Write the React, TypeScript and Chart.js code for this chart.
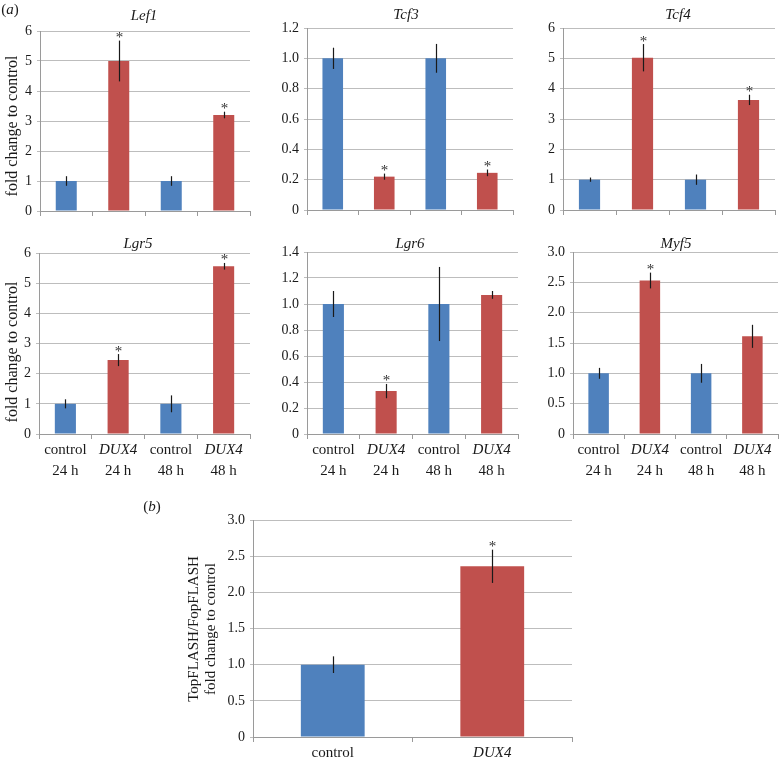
import React, { useEffect, useRef } from "react";
import { Chart, registerables } from "chart.js";

Chart.register(...registerables);

const FONT = '"Liberation Serif", "Times New Roman", serif';

// ---------- data ----------
const GROUP_LABELS = ["control", "DUX4", "control", "DUX4"];
const GROUP_ITALIC = [false, true, false, true];
const TIME_LABELS = ["24 h", "24 h", "48 h", "48 h"];
const BAR_COLORS = ["#4F81BD", "#C0504D", "#4F81BD", "#C0504D"];

const LEF1_VALUES = [1, 5, 1, 3.2];
const LEF1_ERRORS = [0.16, 0.68, 0.16, 0.11];
const LEF1_STARS = [false, true, false, true];

const TCF3_VALUES = [1, 0.22, 1, 0.245];
const TCF3_ERRORS = [0.07, 0.02, 0.095, 0.022];
const TCF3_STARS = [false, true, false, true];

const TCF4_VALUES = [1, 5.02, 1, 3.63];
const TCF4_ERRORS = [0.07, 0.45, 0.17, 0.17];
const TCF4_STARS = [false, true, false, true];

const LGR5_VALUES = [1, 2.45, 1, 5.56];
const LGR5_ERRORS = [0.15, 0.2, 0.28, 0.11];
const LGR5_STARS = [false, true, false, true];

const LGR6_VALUES = [1, 0.33, 1, 1.07];
const LGR6_ERRORS = [0.1, 0.055, 0.285, 0.03];
const LGR6_STARS = [false, true, false, false];

const MYF5_VALUES = [1, 2.53, 1, 1.61];
const MYF5_ERRORS = [0.09, 0.13, 0.155, 0.19];
const MYF5_STARS = [false, true, false, false];

const B_LABELS = ["control", "DUX4"];
const B_ITALIC = [false, true];
const B_COLORS = ["#4F81BD", "#C0504D"];
const B_VALUES = [1, 2.36];
const B_ERRORS = [0.115, 0.23];
const B_STARS = [false, true];

const Y_TITLE_A = ["fold change to control"];
const Y_TITLE_B = ["TopFLASH/FopFLASH", "fold change to control"];

// ---------- layout ----------
type Part = { t: string; italic?: boolean };
type TextItem = { parts: Part[]; x: number; y: number; size: number; rotate?: boolean };

type PanelDef = {
  title?: string;
  labels: string[];
  italic: boolean[];
  times?: string[];
  showX: boolean;
  colors: string[];
  values: number[];
  errors: number[];
  stars: boolean[];
  yMax: number;
  yStep: number;
  decimals: number;
  area: { l: number; t: number; r: number; b: number };
  canvasX: number;
  titleX?: number;
  titleY?: number;
  texts: TextItem[];
};

const PANELS: PanelDef[] = [
  {
    title: "Lef1", labels: GROUP_LABELS, italic: GROUP_ITALIC, showX: false, colors: BAR_COLORS,
    values: LEF1_VALUES, errors: LEF1_ERRORS, stars: LEF1_STARS, yMax: 6, yStep: 1, decimals: 0,
    area: { l: 40, t: 31, r: 250, b: 211 }, canvasX: 0, titleX: 144, titleY: 20,
    texts: [
      { parts: [{ t: "(" }, { t: "a", italic: true }, { t: ")" }], x: 10, y: 14, size: 15 },
      { parts: [{ t: Y_TITLE_A[0] }], x: 13, y: 126, size: 16, rotate: true },
    ],
  },
  {
    title: "Tcf3", labels: GROUP_LABELS, italic: GROUP_ITALIC, showX: false, colors: BAR_COLORS,
    values: TCF3_VALUES, errors: TCF3_ERRORS, stars: TCF3_STARS, yMax: 1.2, yStep: 0.2, decimals: 1,
    area: { l: 307, t: 28, r: 513, b: 210 }, canvasX: 255, titleX: 406, titleY: 19, texts: [],
  },
  {
    title: "Tcf4", labels: GROUP_LABELS, italic: GROUP_ITALIC, showX: false, colors: BAR_COLORS,
    values: TCF4_VALUES, errors: TCF4_ERRORS, stars: TCF4_STARS, yMax: 6, yStep: 1, decimals: 0,
    area: { l: 563, t: 28, r: 775, b: 210 }, canvasX: 515, titleX: 678, titleY: 19, texts: [],
  },
  {
    title: "Lgr5", labels: GROUP_LABELS, italic: GROUP_ITALIC, times: TIME_LABELS, showX: true, colors: BAR_COLORS,
    values: LGR5_VALUES, errors: LGR5_ERRORS, stars: LGR5_STARS, yMax: 6, yStep: 1, decimals: 0,
    area: { l: 39, t: 253, r: 250, b: 434 }, canvasX: 0, titleX: 138, titleY: 248,
    texts: [{ parts: [{ t: Y_TITLE_A[0] }], x: 13, y: 352, size: 16, rotate: true }],
  },
  {
    title: "Lgr6", labels: GROUP_LABELS, italic: GROUP_ITALIC, times: TIME_LABELS, showX: true, colors: BAR_COLORS,
    values: LGR6_VALUES, errors: LGR6_ERRORS, stars: LGR6_STARS, yMax: 1.4, yStep: 0.2, decimals: 1,
    area: { l: 307, t: 252, r: 518, b: 434 }, canvasX: 255, titleX: 410, titleY: 248, texts: [],
  },
  {
    title: "Myf5", labels: GROUP_LABELS, italic: GROUP_ITALIC, times: TIME_LABELS, showX: true, colors: BAR_COLORS,
    values: MYF5_VALUES, errors: MYF5_ERRORS, stars: MYF5_STARS, yMax: 3, yStep: 0.5, decimals: 1,
    area: { l: 573, t: 252, r: 778, b: 434 }, canvasX: 522, titleX: 676, titleY: 248, texts: [],
  },
  {
    labels: B_LABELS, italic: B_ITALIC, showX: true, colors: B_COLORS,
    values: B_VALUES, errors: B_ERRORS, stars: B_STARS, yMax: 3, yStep: 0.5, decimals: 1,
    area: { l: 253, t: 520, r: 572, b: 737 }, canvasX: 135,
    texts: [
      { parts: [{ t: "(" }, { t: "b", italic: true }, { t: ")" }], x: 152, y: 511, size: 15 },
      { parts: [{ t: Y_TITLE_B[0] }], x: 194, y: 629, size: 15, rotate: true },
      { parts: [{ t: Y_TITLE_B[1] }], x: 211, y: 629, size: 15, rotate: true },
    ],
  },
];

function drawParts(ctx: CanvasRenderingContext2D, parts: Part[], x: number, y: number, size: number) {
  const fonts = parts.map((p) => `${p.italic ? "italic " : ""}${size}px ${FONT}`);
  const widths = parts.map((p, i) => {
    ctx.font = fonts[i];
    return ctx.measureText(p.t).width;
  });
  const total = widths.reduce((a, b) => a + b, 0);
  let cx = x - total / 2;
  ctx.textAlign = "left";
  parts.forEach((p, i) => {
    ctx.font = fonts[i];
    ctx.fillText(p.t, cx, y);
    cx += widths[i];
  });
}

function BarPanel({ def }: { def: PanelDef }) {
  const ref = useRef<HTMLCanvasElement>(null);
  const { area, canvasX } = def;
  const PT = Math.min(area.t, 30);
  const canvasY = area.t - PT;
  const PL = area.l - canvasX;
  const PR = 2;
  const PB = 48;
  const W = area.r - area.l + PL + PR;
  const H = area.b - area.t + PT + PB;

  useEffect(() => {
    if (!ref.current) return;
    const toX = (px: number) => px - canvasX;
    const toY = (py: number) => py - canvasY;
    const extras = {
      id: "extras",
      afterDatasetsDraw(chart: any) {
        const ctx: CanvasRenderingContext2D = chart.ctx;
        const xs = chart.scales.x;
        const ys = chart.scales.y;
        ctx.save();
        // error bars and stars
        def.values.forEach((v, i) => {
          const cx = Math.round(xs.getPixelForValue(i)) + 0.5;
          const yTop = ys.getPixelForValue(v + def.errors[i]);
          const yBot = ys.getPixelForValue(v - def.errors[i]);
          ctx.strokeStyle = "#1a1a1a";
          ctx.lineWidth = 1.2;
          ctx.beginPath();
          ctx.moveTo(cx, yTop);
          ctx.lineTo(cx, yBot);
          ctx.stroke();
          if (def.stars[i]) {
            ctx.fillStyle = "#333";
            ctx.font = `15px ${FONT}`;
            ctx.textAlign = "center";
            ctx.textBaseline = "alphabetic";
            ctx.fillText("*", cx, yTop + 1.5);
          }
        });
        ctx.fillStyle = "#1a1a1a";
        ctx.textBaseline = "alphabetic";
        // x labels
        if (def.showX) {
          const base = chart.chartArea.bottom;
          def.labels.forEach((lab, i) => {
            const cx = xs.getPixelForTick(i);
            drawParts(ctx, [{ t: lab, italic: def.italic[i] }], cx, base + 20, 15);
            if (def.times) drawParts(ctx, [{ t: def.times[i] }], cx, base + 41, 15);
          });
        }
        // title
        if (def.title && def.titleX !== undefined && def.titleY !== undefined) {
          drawParts(ctx, [{ t: def.title, italic: true }], toX(def.titleX), toY(def.titleY), 15);
        }
        // other texts
        def.texts.forEach((tx) => {
          if (tx.rotate) {
            ctx.save();
            ctx.translate(toX(tx.x), toY(tx.y));
            ctx.rotate(-Math.PI / 2);
            ctx.textBaseline = "middle";
            drawParts(ctx, tx.parts, 0, 0, tx.size);
            ctx.restore();
          } else {
            ctx.textBaseline = "alphabetic";
            drawParts(ctx, tx.parts, toX(tx.x), toY(tx.y), tx.size);
          }
        });
        ctx.restore();
      },
    };

    const chart = new Chart(ref.current, {
      type: "bar",
      data: {
        labels: def.labels,
        datasets: [
          {
            data: def.values,
            backgroundColor: def.colors,
            borderWidth: 0,
            barPercentage: 0.4,
            categoryPercentage: 1,
          },
        ],
      },
      options: {
        animation: false,
        responsive: false,
        devicePixelRatio: 1,
        layout: { padding: { top: PT, right: PR, left: 0, bottom: 0 } },
        plugins: { legend: { display: false }, tooltip: { enabled: false }, title: { display: false } },
        scales: {
          x: {
            type: "category",
            offset: true,
            grid: { offset: true, drawOnChartArea: false, drawTicks: true, tickLength: 5, color: "#9a9a9a" },
            border: { display: true, color: "#9a9a9a" },
            ticks: { display: false },
            afterFit: (s: any) => {
              s.height = PB;
            },
          },
          y: {
            min: 0,
            max: def.yMax,
            ticks: {
              stepSize: def.yStep,
              color: "#1a1a1a",
              padding: 5,
              font: { family: FONT, size: 14 },
              callback: (v: any) => (Number(v) === 0 ? "0" : Number(v).toFixed(def.decimals)),
            },
            grid: { color: "#bdbdbd", drawTicks: true, tickLength: 3 },
            border: { display: true, color: "#9a9a9a" },
            afterFit: (s: any) => {
              s.width = PL;
            },
          },
        },
      },
      plugins: [extras],
    } as any);
    return () => chart.destroy();
  }, []);

  return (
    <canvas
      ref={ref}
      width={W}
      height={H}
      style={{ position: "absolute", left: canvasX, top: canvasY, width: W, height: H }}
    />
  );
}

export default function App() {
  return (
    <div style={{ position: "fixed", left: 0, top: 0, width: 780, height: 761, background: "#fff", overflow: "hidden" }}>
      {PANELS.map((p, i) => (
        <BarPanel key={i} def={p} />
      ))}
    </div>
  );
}
